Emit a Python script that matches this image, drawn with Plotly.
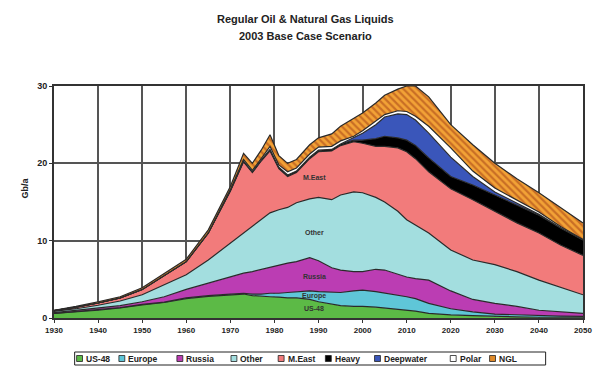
import plotly.graph_objects as go

years = [1930, 1935, 1940, 1945, 1950, 1955, 1960, 1965, 1970, 1973, 1975, 1977, 1979, 1981,
         1983, 1985, 1988, 1990, 1993, 1995, 1998, 2000, 2003, 2005, 2008, 2010, 2012, 2015,
         2020, 2025, 2030, 2035, 2040, 2045, 2050]

us48 = [0.6, 0.8, 1.0, 1.3, 1.7, 2.0, 2.5, 2.8, 3.0, 3.1, 2.9, 2.8, 2.75, 2.7,
        2.6, 2.6, 2.4, 2.1, 1.8, 1.6, 1.5, 1.5, 1.4, 1.3, 1.1, 1.0, 0.9, 0.6,
        0.4, 0.3, 0.2, 0.15, 0.1, 0.1, 0.1]
europe = [0.0, 0.02, 0.05, 0.05, 0.05, 0.05, 0.1, 0.1, 0.1, 0.1, 0.2, 0.3, 0.45, 0.5,
          0.7, 0.8, 1.1, 1.3, 1.5, 1.7, 2.0, 2.1, 2.0, 1.9, 1.9, 1.75, 1.6, 1.3,
          0.8, 0.5, 0.3, 0.25, 0.2, 0.15, 0.1]
russia = [0.1, 0.18, 0.25, 0.25, 0.35, 0.7, 1.1, 1.6, 2.3, 2.6, 2.9, 3.2, 3.4, 3.6,
          3.8, 3.9, 4.3, 4.0, 3.2, 2.9, 2.5, 2.4, 2.9, 3.0, 2.7, 2.55, 2.6, 3.0,
          2.3, 1.6, 1.4, 1.1, 0.7, 0.55, 0.4]
other = [0.15, 0.2, 0.35, 0.6, 0.9, 1.55, 1.9, 3.0, 4.3, 5.2, 5.8, 6.5, 7.0, 7.2,
         7.2, 7.6, 7.6, 8.2, 8.8, 9.7, 10.3, 10.2, 9.3, 8.8, 8.1, 7.4, 6.9, 6.1,
         5.3, 5.1, 5.0, 4.5, 3.9, 3.1, 2.4]
meast = [0.1, 0.2, 0.3, 0.4, 0.7, 1.2, 1.7, 3.5, 6.7, 9.2, 7.0, 7.5, 8.0, 5.3,
         4.0, 3.9, 5.2, 5.9, 6.3, 6.4, 6.5, 6.4, 6.6, 7.2, 8.2, 8.8, 8.6, 7.9,
         7.9, 7.8, 6.9, 6.3, 6.1, 5.5, 5.1]
heavy = [0, 0, 0, 0, 0, 0, 0, 0, 0.1, 0.1, 0.1, 0.1, 0.2, 0.2,
         0.2, 0.2, 0.2, 0.2, 0.2, 0.2, 0.2, 0.4, 1.0, 1.3, 1.3, 1.5, 1.7, 1.8,
         1.6, 1.9, 2.1, 2.4, 2.3, 2.2, 2.0]
deepwater = [0, 0, 0, 0, 0, 0, 0, 0, 0, 0, 0, 0, 0, 0,
             0, 0, 0, 0, 0, 0, 0.3, 0.9, 1.8, 2.5, 3.1, 3.3, 3.3, 3.2,
             2.5, 1.1, 0.4, 0.2, 0.1, 0.05, 0.0]
polar = [0, 0, 0, 0, 0, 0, 0, 0, 0.1, 0.2, 0.2, 0.2, 0.4, 0.3,
         0.4, 0.4, 0.4, 0.4, 0.4, 0.4, 0.2, 0.3, 0.4, 0.3, 0.4, 0.4, 0.5, 0.9,
         1.2, 0.7, 0.5, 0.3, 0.3, 0.15, 0.05]
ngl = [0.05, 0.1, 0.15, 0.15, 0.2, 0.3, 0.3, 0.4, 0.4, 0.8, 0.9, 1.1, 1.5, 1.2,
       1.1, 1.1, 1.2, 1.2, 1.6, 1.9, 2.3, 2.3, 2.4, 2.5, 2.8, 3.3, 3.9, 3.8,
       3.0, 3.4, 3.2, 2.8, 2.5, 2.4, 2.15]

series_names = ["US-48", "Europe", "Russia", "Other", "M.East", "Heavy", "Deepwater", "Polar", "NGL"]
series_values = [us48, europe, russia, other, meast, heavy, deepwater, polar, ngl]
colors = ["#5cba46", "#5fc6d8", "#bb3db3", "#a3dedf", "#f27b7b", "#000000", "#3a56ba", "#ffffff", "#f2a236"]

x_ticks = [1930, 1940, 1950, 1960, 1970, 1980, 1990, 2000, 2010, 2020, 2030, 2040, 2050]
y_ticks = [0, 10, 20, 30]

fig = go.Figure()
for name, vals, col in zip(series_names, series_values, colors):
    kw = {}
    if name == "NGL":
        kw["fillpattern"] = dict(shape="\\", fgcolor="#a03a14", bgcolor=col, size=5, solidity=0.45)
    fig.add_trace(go.Scatter(
        x=years, y=vals, name=name, stackgroup="one", mode="lines",
        line=dict(color="#2a2a2a", width=1.2, shape="linear"),
        fillcolor=col, showlegend=False, **kw))

# Inner labels
label_font = dict(family="Liberation Sans", size=7, color="#333333", weight="bold")
inner = [("M.East", 1989, 18.2), ("Other", 1989, 11.1), ("Russia", 1989, 5.4),
         ("Europe", 1989, 2.8), ("US-48", 1989, 1.2)]
for t, xx, yy in inner:
    fig.add_annotation(x=xx, y=yy, text=t, showarrow=False, font=label_font)

W, H = 603, 367
L, R, T, B = 54, 11, 86, 49
pw, ph = W - L - R, H - T - B

def px(xp):
    return (xp - L) / pw

def py(yp):
    return (H - B - yp) / ph

# Title
tfont = dict(family="Liberation Sans", size=11, color="#222222", weight="bold")
fig.add_annotation(xref="paper", yref="paper", x=px(310), y=py(19), text="Regular Oil & Natural Gas Liquids",
                   showarrow=False, font=tfont, xanchor="center", yanchor="middle")
fig.add_annotation(xref="paper", yref="paper", x=px(310), y=py(36), text="2003 Base Case Scenario",
                   showarrow=False, font=tfont, xanchor="center", yanchor="middle")
# Y title
fig.add_annotation(xref="paper", yref="paper", x=px(17), y=py(188), text="Gb/a", textangle=-90,
                   showarrow=False, font=dict(family="Liberation Sans", size=9, color="#222222", weight="bold"))

# Manual legend
shapes = [dict(type="rect", xref="paper", yref="paper", x0=px(75), x1=px(554), y0=py(365), y1=py(352),
               line=dict(color="#222222", width=1), fillcolor="white", layer="above")]
swatch_x = [80, 123, 182, 237, 285, 333, 383, 460, 500]
ymid = 358.5
for name, col, sx in zip(series_names, colors, swatch_x):
    sh = dict(type="rect", xref="paper", yref="paper", x0=px(sx - 3), x1=px(sx + 3),
              y0=py(ymid + 3), y1=py(ymid - 3), line=dict(color="#222222", width=0.8),
              fillcolor=col, layer="above")
    if name == "NGL":
        sh["fillcolor"] = "#e08a28"
    shapes.append(sh)
    fig.add_annotation(xref="paper", yref="paper", x=px(sx + 4.5), y=py(ymid), text=name,
                       showarrow=False, xanchor="left", yanchor="middle",
                       font=dict(family="Liberation Sans", size=8.5, color="#222222", weight="bold"))

fig.update_layout(
    width=W, height=H,
    margin=dict(l=L, r=R, t=T, b=B, pad=0),
    paper_bgcolor="white", plot_bgcolor="white",
    showlegend=False,
    shapes=shapes,
    xaxis=dict(range=[1930, 2050], tickvals=x_ticks, ticktext=[str(v) for v in x_ticks],
               showgrid=True, gridcolor="#555555", gridwidth=1.5,
               showline=True, linecolor="#333333", linewidth=2, mirror=True,
               ticks="outside", ticklen=3, tickcolor="#333333",
               tickfont=dict(family="Liberation Sans", size=8, color="#222222", weight="bold"),
               zeroline=False, layer="below traces"),
    yaxis=dict(range=[0, 30], tickvals=y_ticks,
               showgrid=True, gridcolor="#555555", gridwidth=1.5,
               showline=True, linecolor="#333333", linewidth=2, mirror=True,
               ticks="outside", ticklen=3, tickcolor="#333333",
               tickfont=dict(family="Liberation Sans", size=9, color="#222222", weight="bold"),
               zeroline=False),
)

fig.write_html("out.html")
